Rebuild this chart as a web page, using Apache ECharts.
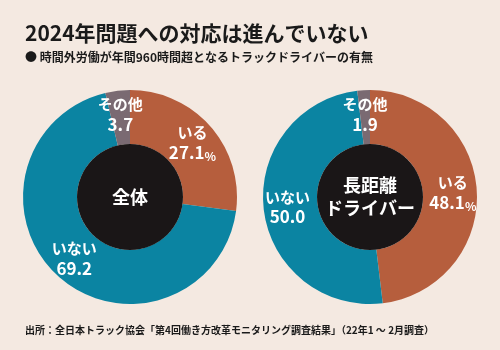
<!DOCTYPE html>
<html>
<head>
<meta charset="utf-8">
<script src="https://cdn.jsdelivr.net/npm/echarts@6/dist/echarts.min.js"></script>
<style>
  html, body { margin: 0; padding: 0; background: #f4e9e1; }
  #main { width: 500px; height: 350px; }
</style>
</head>
<body>
<div id="main"></div>
<script>
// 区分
var categories = ['いる', 'いない', 'その他'];
// 全体
var totalValues = [27.1, 69.2, 3.7];
// 長距離ドライバー
var longValues = [48.1, 50.0, 1.9];
var centerNames = ['全体', '長距離\nドライバー'];

var colors = ['#b65e3d', '#0b84a2', '#7a6a72'];
var font = '"Noto Sans CJK JP", sans-serif';

var myChart = echarts.init(document.getElementById('main'));

function ringData(values) {
    return categories.map(function (name, i) {
        return { name: name, value: values[i], itemStyle: { color: colors[i] } };
    });
}

function ring(values, cx) {
    return {
        type: 'pie',
        center: [cx, 197],
        radius: [53, 107],
        startAngle: 90,
        silent: true,
        data: ringData(values),
        label: {
            position: 'inside',
            formatter: function (p) {
                var v = '{v|' + p.value.toFixed(1) + '}';
                if (p.name === 'いる') v += '{p|%}';
                return '{n|' + p.name + '}\n' + v;
            },
            rich: {
                n: { color: '#fff', fontFamily: font, fontWeight: 'bold', fontSize: 15, lineHeight: 20 },
                v: { color: '#fff', fontFamily: font, fontWeight: 'bold', fontSize: 17, lineHeight: 20 },
                p: { color: '#fff', fontFamily: font, fontWeight: 'bold', fontSize: 12, lineHeight: 20, verticalAlign: 'bottom' }
            }
        },
        labelLine: { show: false }
    };
}

function hub(name, cx) {
    return {
        type: 'pie',
        center: [cx, 197],
        radius: [0, 53],
        silent: true,
        data: [{ name: name, value: 1, itemStyle: { color: '#1a1617' } }],
        label: {
            position: 'center',
            color: '#fff',
            fontFamily: font,
            fontWeight: 'bold',
            fontSize: 18,
            lineHeight: 23
        },
        labelLine: { show: false }
    };
}

var option = {
    backgroundColor: '#f4e9e1',
    animation: false,
    title: [
        {
            text: '2024年問題への対応は進んでいない',
            subtext: '● 時間外労働が年間960時間超となるトラックドライバーの有無',
            left: 20,
            top: 18,
            itemGap: 7,
            textStyle: { color: '#1a1a1a', fontFamily: font, fontWeight: 'bold', fontSize: 21 },
            subtextStyle: { color: '#1a1a1a', fontFamily: font, fontWeight: 'bold', fontSize: 12 }
        },
        {
            text: '出所：全日本トラック協会「第4回働き方改革モニタリング調査結果」（22年1 ～ 2月調査）',
            left: 20,
            top: 320,
            textStyle: { color: '#1a1a1a', fontFamily: font, fontWeight: 'bold', fontSize: 10 }
        }
    ],
    series: [
        ring(totalValues, 130),
        hub(centerNames[0], 130),
        ring(longValues, 370),
        hub(centerNames[1], 370)
    ]
};

myChart.setOption(option);
window.addEventListener('resize', function () { myChart.resize(); });
</script>
</body>
</html>
